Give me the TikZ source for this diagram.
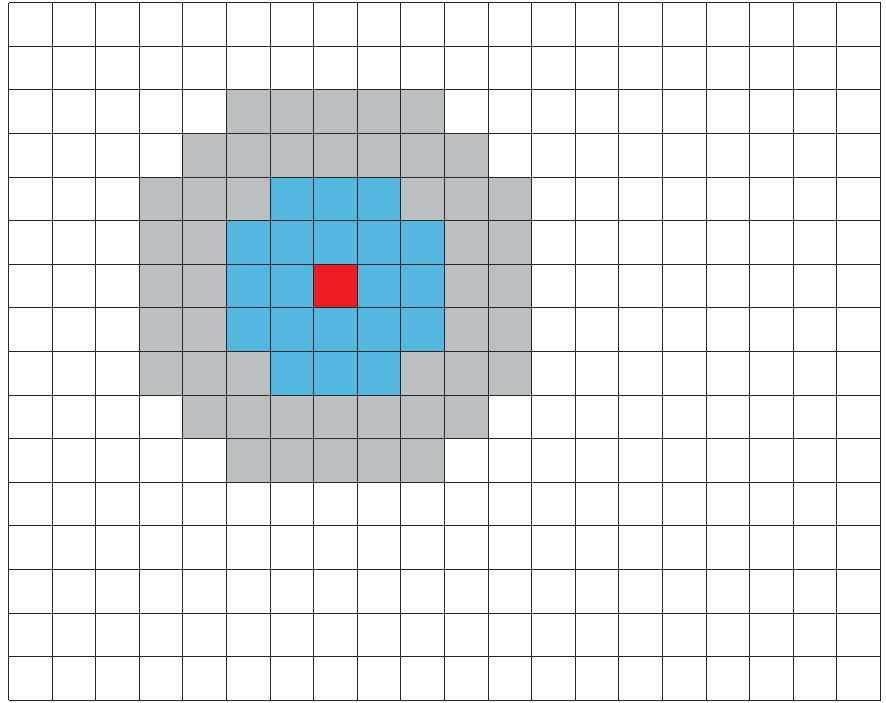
\documentclass[tikz,border=0pt]{standalone}
\usepackage{tikz}
\usepackage{xcolor}
\definecolor{cellgray}{RGB}{188,190,192}
\definecolor{cellblue}{RGB}{83,183,224}
\definecolor{cellred}{RGB}{237,28,36}

\begin{document}
\begin{tikzpicture}[
    gridline/.style={line width=0.6pt, black!85},
    graycell/.style={fill=cellgray},
    bluecell/.style={fill=cellblue},
    redcell/.style={fill=cellred}]

    \useasboundingbox (-0.195,-0.046) rectangle (20.126,16.062);

    % Neighbourhood around the centre cell (7,9)
    \foreach \i in {0,...,19} {
        \foreach \j in {0,...,15} {
            \pgfmathtruncatemacro{\dist}{(\i-7)^2+(\j-9)^2}
            \ifnum\dist=0
                \fill[redcell] (\i,\j) rectangle ++(1,1);
            \else\ifnum\dist<6
                \fill[bluecell] (\i,\j) rectangle ++(1,1);
            \else\ifnum\dist<21
                \fill[graycell] (\i,\j) rectangle ++(1,1);
            \fi\fi\fi
        }
    }

    % Grid
    \draw[gridline] (0,0) grid (20,16);
\end{tikzpicture}
\end{document}
